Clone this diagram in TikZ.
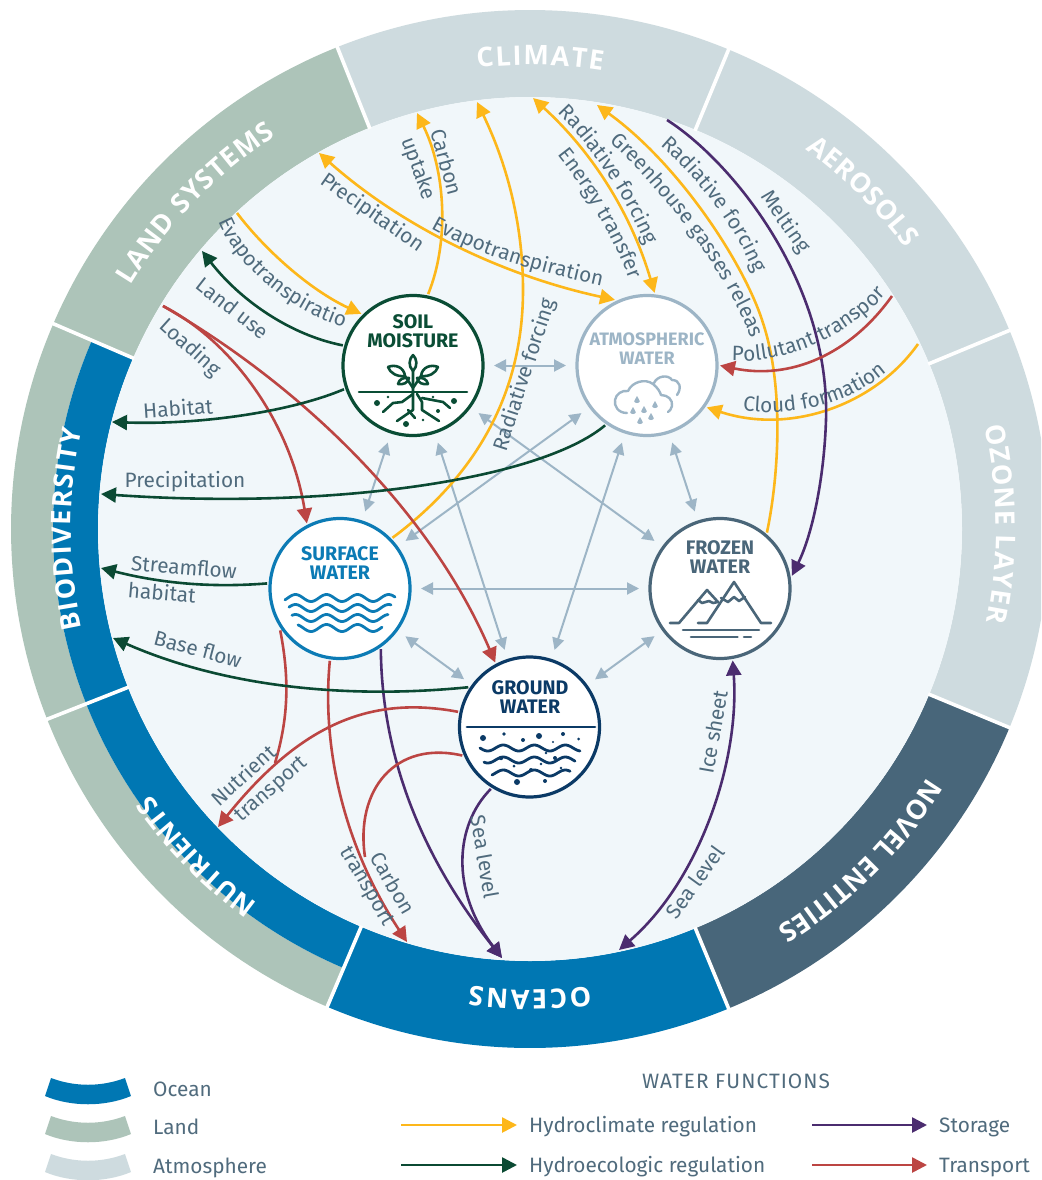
\documentclass[tikz,border=0pt]{standalone}
\usepackage{fontspec}
\setmainfont{Fira Sans}
\newfontfamily\ringfam{Open Sans}
\usetikzlibrary{arrows.meta,decorations.text}
\definecolor{oceanc}{HTML}{0077B3}
\definecolor{landc}{HTML}{ADC4B9}
\definecolor{atmc}{HTML}{CEDBDF}
\definecolor{novelc}{HTML}{48667A}
\definecolor{discc}{HTML}{F1F7FA}
\definecolor{yellowc}{HTML}{FDB71A}
\definecolor{redc}{HTML}{BC4543}
\definecolor{purplec}{HTML}{4B2C6F}
\definecolor{greenc}{HTML}{0B4A33}
\definecolor{grayc}{HTML}{9DB5C6}
\definecolor{labelc}{HTML}{506B7D}
\definecolor{soilc}{HTML}{0A4D35}
\definecolor{surfc}{HTML}{0C7BB5}
\definecolor{frozc}{HTML}{4A6679}
\definecolor{groundc}{HTML}{0B3A66}
\newcommand\lblfont{\fontsize{20.8}{23}\selectfont}
\newcommand\ringfont{\ringfam\fontsize{27}{30}\selectfont\bfseries}
\newcommand\ttlfont{\fontsize{19.6}{19}\selectfont\bfseries}
\newcommand\ttlfonta{\fontsize{18}{19}\selectfont\bfseries}
\tikzset{
  conn/.style={line width=2.6pt},
  yel/.style={conn,draw=yellowc,-{Triangle[length=15pt,width=15pt,fill=yellowc]}},
  yelb/.style={conn,draw=yellowc,{Triangle[length=15pt,width=15pt,fill=yellowc]}-{Triangle[length=15pt,width=15pt,fill=yellowc]}},
  redl/.style={conn,draw=redc,-{Triangle[length=15pt,width=15pt,fill=redc]}},
  redn/.style={conn,draw=redc},
  pur/.style={conn,draw=purplec,-{Triangle[length=15pt,width=15pt,fill=purplec]}},
  purb/.style={conn,draw=purplec,{Triangle[length=15pt,width=15pt,fill=purplec]}-{Triangle[length=15pt,width=15pt,fill=purplec]}},
  grn/.style={conn,draw=greenc,-{Triangle[length=15pt,width=15pt,fill=greenc]}},
  gry/.style={line width=2pt,draw=grayc,{Triangle[length=12pt,width=12pt,fill=grayc]}-{Triangle[length=12pt,width=12pt,fill=grayc]},shorten >=8pt,shorten <=8pt},
  circ/.style={circle,minimum size=140pt,inner sep=0pt,outer sep=3pt},
  ttl/.style={font=\ttlfont,text=#1,align=center,inner sep=0pt},
  lbl/.style={font=\lblfont,text=labelc,inner sep=0pt},
  clbl/.style={decorate,decoration={text along path,text={|\lblfont\color{labelc}|#1},text align=center}},
  ringt/.style={decorate,decoration={text along path,text={|\ringfont\color{white}|#1},text align=fit to path}},
  sep/.style={draw=white,line width=3.6pt},
  ico/.style={line width=#1,line cap=round,line join=round},
}
\begin{document}
\begin{tikzpicture}[x=1pt,y=-1pt]
\useasboundingbox (0,0) rectangle (1041,1180);
\clip (0,0) rectangle (1041,1180);
\fill[white] (0,0) rectangle (1041,1180);
% ---------- ring
\begin{scope}[shift={(530,529)},y=1pt]
\newcommand\seg[5]{\fill[#1] (#2:#4) arc (#2:#3:#4) -- (#3:#5) arc (#3:#2:#5) -- cycle;}
\seg{atmc}{67.5}{111.8}{519}{432}
\seg{atmc}{22.5}{67.5}{519}{432}
\seg{atmc}{-22.5}{22.5}{519}{432}
\seg{novelc}{-67.5}{-22.5}{519}{432}
\seg{oceanc}{-113}{-67.5}{519}{432}
\seg{landc}{-158.5}{-113}{519}{477}
\seg{oceanc}{-158.5}{-113}{477}{432}
\seg{landc}{156.7}{201.5}{519}{477}
\seg{oceanc}{156.7}{201.5}{477}{432}
\seg{landc}{111.8}{156.7}{519}{432}
\fill[discc] (0,0) circle (432);
\foreach \a in {22.5,67.5,111.8,156.7,201.5,247,292.5,337.5} \draw[sep] (\a:431) -- (\a:522);
\path[ringt={CLIMATE}] (96.5:464) arc (96.5:81:464);
\path[ringt={AEROSOLS}] (54:469) arc (54:36.8:469);
\path[ringt={OZONE LAYER}] (12.7:466) arc (12.7:-11.5:466);
\path[ringt={NOVEL ENTITIES}] (-32:469) arc (-32:-58:469);
\path[ringt={OCEANS}] (-82.5:461) arc (-82.5:-97.5:461);
\path[ringt={NUTRIENTS}] (-126:463) arc (-126:-145:463);
\path[ringt={BIODIVERSITY}] (-167.5:459) arc (-167.5:-192.5:459);
\path[ringt={LAND SYSTEMS}] (148.6:468) arc (148.6:122.9:468);
\end{scope}
% ---------- nodes (circles)
\path (413,365.5) node[circ] (soil) {};
\path (647,365.5) node[circ] (atmos) {};
\path (340,588.5) node[circ] (surface) {};
\path (720,588.5) node[circ] (frozen) {};
\path (529.5,727) node[circ] (ground) {};
% ---------- free ends
\coordinate (yLandS) at (237,213);
\coordinate (tCarbon) at (417,113);
\coordinate (tRad) at (477,102);
\coordinate (mRad) at (523,290);
\coordinate (tPrec) at (319,153);
\coordinate (tEner) at (533,98);
\coordinate (tGreen) at (597,105);
\coordinate (mGreen) at (763,323);
\coordinate (sCloud) at (918,344);
\coordinate (sMelt) at (667,120);
\coordinate (mMelt) at (826,420);
\coordinate (tSea) at (619,950);
\coordinate (tOcean) at (502,958);
\coordinate (sLoad) at (163,306);
\coordinate (sPoll) at (892,296);
\coordinate (jNutr) at (275,763);
\coordinate (tNutr) at (218,827);
\coordinate (tCarbT) at (407,942);
\coordinate (jCarbT) at (365,857);
\coordinate (tLand) at (202,251);
\coordinate (tHab) at (112,422);
\coordinate (tPre) at (101,494);
\coordinate (tStr) at (101,568);
\coordinate (tBase) at (113,638);
% ---------- grey double arrows
\draw[gry] (soil) -- (atmos);
\draw[gry] (soil) -- (frozen);
\draw[gry] (atmos) -- (surface);
\draw[gry] (soil) -- (ground);
\draw[gry] (soil) -- (surface);
\draw[gry] (atmos) -- (frozen);
\draw[gry] (atmos) -- (ground);
\draw[gry] (surface) -- (frozen);
\draw[gry] (surface) -- (ground);
\draw[gry] (frozen) -- (ground);
% ---------- hydroclimate
\draw[yel] (yLandS) .. controls (265,250) and (310,290) .. (soil.135);
\draw[yel] (soil.78) .. controls (450,240) and (445,170) .. (tCarbon);
\draw[yel] (surface.44) .. controls (470,480) and (523,400) .. (mRad) .. controls (523,220) and (505,160) .. (tRad);
\draw[yelb] (tPrec) .. controls (400,225) and (500,275) .. (atmos.116);
\draw[yelb] (tEner) .. controls (590,150) and (630,210) .. (atmos.84);
\draw[yel] (frozen.50) .. controls (778,480) and (785,390) .. (mGreen) .. controls (745,265) and (680,165) .. (tGreen);
\draw[yel] (sCloud) .. controls (875,405) and (790,435) .. (atmos.-35);
% ---------- storage
\draw[pur] (sMelt) .. controls (730,160) and (830,280) .. (mMelt) .. controls (824,480) and (812,535) .. (frozen.10);
\draw[purb] (frozen.-80) .. controls (740,760) and (700,880) .. (tSea);
\draw[pur] (surface.-56) .. controls (382,780) and (440,880) .. (tOcean);
\draw[pur] (ground.-122) .. controls (455,825) and (450,890) .. (tOcean);
% ---------- transport
\draw[redl] (sLoad) .. controls (230,340) and (290,420) .. (surface.117);
\draw[redl] (sLoad) .. controls (300,385) and (430,510) .. (ground.118);
\draw[redl] (sPoll) .. controls (850,355) and (790,380) .. (atmos.0);
\draw[redn] (surface.215) .. controls (290,680) and (288,720) .. (jNutr);
\draw[redl] (ground.168) .. controls (370,695) and (300,725) .. (tNutr);
\draw[redl] (surface.262) .. controls (322,740) and (340,840) .. (tCarbT);
\draw[redn] (ground.203) .. controls (395,740) and (355,790) .. (jCarbT);
% ---------- hydroecologic
\draw[grn] (soil.164) .. controls (290,335) and (240,300) .. (tLand);
\draw[grn] (soil.199) .. controls (290,412) and (200,425) .. (tHab);
\draw[grn] (atmos.235) .. controls (540,480) and (330,510) .. (tPre);
\draw[grn] (surface.176) .. controls (210,588) and (160,583) .. (tStr);
\draw[grn] (ground.147) .. controls (340,700) and (220,685) .. (tBase);
% ---------- circles on top
\draw[soilc,fill=white,line width=3.2pt] (soil.center) circle (70);
\draw[grayc,fill=white,line width=3.2pt] (atmos.center) circle (70);
\draw[surfc,fill=white,line width=3.2pt] (surface.center) circle (70);
\draw[frozc,fill=white,line width=3.2pt] (frozen.center) circle (70);
\draw[groundc,fill=white,line width=3.2pt] (ground.center) circle (70);
\node[ttl=soilc] (soilT) at (413,331) {SOIL\\MOISTURE};
\node[ttl=grayc,font=\ttlfonta] (atmosT) at (647,348.5) {ATMOSPHERIC\\WATER};
\node[ttl=surfc] (surfT) at (340,563) {SURFACE\\WATER};
\node[ttl=frozc] (frozT) at (720,557.5) {FROZEN\\WATER};
\node[ttl=groundc] (groundT) at (530,697.5) {GROUND\\WATER};
% soil icon
\begin{scope}[draw=soilc,fill=soilc,ico=2.6pt]
\draw (359,392) -- (467,392);
\draw (413,370) -- (413,410) -- (397,421);
\draw (408,410) -- (415,418);
\draw (413,388) -- (405,376); \draw (413,388) -- (421,376);
\draw (413,394) -- (402,402) -- (393,403) -- (383,412);
\draw (417,394) -- (422,402) -- (422,410) -- (439,421);
\draw (422,398) -- (443,402) -- (450,408);
\draw (413,355) .. controls (417,359) and (418,366) .. (413,371) .. controls (408,366) and (409,359) .. (413,355);
\draw (388,367) .. controls (395,364) and (404,367) .. (405,376) .. controls (397,377) and (390,373) .. (388,367);
\draw (438,367) .. controls (431,364) and (422,367) .. (421,376) .. controls (429,377) and (436,373) .. (438,367);
\draw (398,384) .. controls (399,379) and (404,377) .. (409,378) .. controls (408,383) and (403,385) .. (398,384);
\draw (428,384) .. controls (427,379) and (422,377) .. (417,378) .. controls (418,383) and (423,385) .. (428,384);
\foreach \dx/\dy/\dr in {377/403/3,388/397/1.4,454/401/3,433/397/1.4,438/411/2,423/420/1.4,406/424/3}
  \fill[soilc] (\dx,\dy) circle (\dr);
\end{scope}
% atmos icon
\begin{scope}[ico=2.4pt]
\draw[grayc] (627,413) .. controls (618,413) and (614,406) .. (615,400) .. controls (616,394) and (622,390) .. (628,391) .. controls (632,382) and (645,378) .. (653,384) .. controls (658,388) and (660,392) .. (661,395) .. controls (668,395) and (673,400) .. (672,406) .. controls (671,409) and (670,411) .. (668,412);
\draw[grayc] (654,383) .. controls (657,376) and (668,374) .. (672,380) .. controls (680,380) and (682,388) .. (677,395);
\foreach \dx/\dy in {637/400,655/405,633/411,644/410,640/421,651/417}
  \fill[grayc] (\dx,\dy-4) .. controls (\dx+.6,\dy-1.6) and (\dx+2.8,\dy-.6) .. (\dx+2.8,\dy+1.2) .. controls (\dx+2.8,\dy+3.6) and (\dx-2.8,\dy+3.6) .. (\dx-2.8,\dy+1.2) .. controls (\dx-2.8,\dy-.6) and (\dx-.6,\dy-1.6) .. (\dx,\dy-4) -- cycle;
\end{scope}
% surface icon
\foreach \ya/\xa/\xb in {598/285/395,608/289/391,618/292/388,628/298/382}
  \draw[surfc,ico=2.8pt] plot[variable=\t,domain=\xa:\xb,samples=70,smooth] (\t,{\ya+3.5*sin((\t-280)*11.6+90)});
% ground icon
\draw[groundc,ico=2.8pt] (467,727) -- (595,727);
\foreach \ya/\xa/\xb in {748/480/580,760/484/575,773/492/570}
  \draw[groundc,ico=2.8pt] plot[variable=\t,domain=\xa:\xb,samples=60,smooth] (\t,{\ya+3*sin((\t-480)*11.6)});
\foreach \dx/\dy/\dr in {483/738/3,504/734/1.8,523/740/2,539/736/3,563/734/2,553/742/1.2,578.6/739/1.5,505/745/1.2,546/753/1.3,501/758/2.2,555/758/2,514/766/1.5,541/764/1.4,505/770/1.3,531/770/2,561/768/1.3,517/782/3,545/781/2}
  \fill[groundc] (\dx,\dy) circle (\dr);
% frozen icon
\begin{scope}[draw=frozc,ico=2.6pt]
\draw (698,623) -- (707,623) -- (734,582) -- (761,623) -- (771,623);
\draw (670,623) -- (679,623) -- (707,590) -- (718,602);
\draw (721,598) -- (728,602) -- (734,597) -- (739,601) -- (745,597);
\draw (698,600) -- (702,603) -- (709,601) -- (713,603) -- (718,602);
\draw (683,630) -- (759,630);
\draw (691,637) -- (737.5,637);
\draw (744,637) -- (751,637);
\end{scope}
% ---------- labels
\node[lbl,rotate=-38] (lLand) at (233,308) {Land use};
\node[lbl,rotate=-42] (lLoad) at (190,348) {Loading};
\node[lbl,rotate=4] (lHab) at (178,408) {Habitat};
\node[lbl] (lPrec) at (185,482) {Precipitation};
\node[lbl,rotate=-5] (lStr) at (184,567) {Streamflow};
\node[lbl,rotate=-5] (lStr2) at (162,592) {habitat};
\node[lbl,rotate=-15] (lBase) at (198,649) {Base flow};
\node[lbl,rotate=42] (lNut1) at (243,775) {Nutrient};
\node[lbl,rotate=41] (lNut2) at (272,790) {transport};
\node[lbl,rotate=-60] (lCar1) at (393,883) {Carbon};
\node[lbl,rotate=-60] (lCar2) at (366,887) {transport};
\node[lbl,rotate=-80] (lSea1) at (485,857) {Sea level};
\node[lbl,rotate=54] (lSea2) at (695,882) {Sea level};
\node[lbl,rotate=80] (lIce) at (713,732) {Ice sheet};
\node[lbl,rotate=-75] (lCup1) at (447,162) {Carbon};
\node[lbl,rotate=-70] (lCup2) at (418,169) {uptake};
\node[lbl,rotate=-35] (lPre2) at (372,213) {Precipitation};
\node[lbl,rotate=-55] (lMelt) at (785,222) {Melting};
\node[lbl,rotate=72] (lRad) at (525,375) {Radiative forcing};
\path[clbl={Evapotranspiration}] (222,229) .. controls (240,265) and (285,310) .. (347,328);
\path[clbl={Evapotranspiration}] (434,230) .. controls (485,258) and (540,272) .. (598,285);
\path[clbl={Radiative forcing}] (558,113) .. controls (590,145) and (625,195) .. (646,245);
\path[clbl={Energy transfer}] (560,158) .. controls (585,190) and (610,230) .. (628,276);
\path[clbl={Greenhouse gasses release}] (617,148) .. controls (660,190) and (720,260) .. (752,340);
\path[clbl={Radiative forcing}] (661,146) .. controls (695,175) and (735,225) .. (754,272);
\path[clbl={Pollutant transport}] (738,361) .. controls (790,362) and (850,335) .. (887,293);
\path[clbl={Cloud formation}] (740,410) .. controls (790,418) and (850,405) .. (889,370);
% ---------- legend
\fill[oceanc] (45,1096) -- (51,1078) .. controls (75,1087) and (101,1087) .. (125,1078) -- (131,1096) .. controls (105,1107) and (71,1107) .. (45,1096) -- cycle;
\fill[landc] (45,1134) -- (51,1116) .. controls (75,1125) and (101,1125) .. (125,1116) -- (131,1134) .. controls (105,1145) and (71,1145) .. (45,1134) -- cycle;
\fill[atmc] (45,1172) -- (51,1154) .. controls (75,1163) and (101,1163) .. (125,1154) -- (131,1172) .. controls (105,1183) and (71,1183) .. (45,1172) -- cycle;
\node[lbl,anchor=base west] (kOcean) at (153,1096) {Ocean};
\node[lbl,anchor=base west] (kLand) at (153,1134) {Land};
\node[lbl,anchor=base west] (kAtm) at (153,1173) {Atmosphere};
\node[lbl,anchor=base] (kTitle) at (736,1088) {\addfontfeatures{LetterSpace=5}WATER FUNCTIONS};
\node[lbl,anchor=base west] (kHc) at (529,1132) {Hydroclimate regulation};
\node[lbl,anchor=base west] (kHe) at (529,1172) {Hydroecologic regulation};
\node[lbl,anchor=base west] (kSt) at (939,1132) {Storage};
\node[lbl,anchor=base west] (kTr) at (939,1172) {Transport};
\coordinate (sHc) at (401,1125); \coordinate (eHc) at (517,1125);
\coordinate (sHe) at (401,1165); \coordinate (eHe) at (517,1165);
\coordinate (sSt) at (812,1125); \coordinate (eSt) at (927,1125);
\coordinate (sTr) at (812,1165); \coordinate (eTr) at (927,1165);
\draw[yel] (sHc) -- (eHc);
\draw[grn] (sHe) -- (eHe);
\draw[pur] (sSt) -- (eSt);
\draw[redl] (sTr) -- (eTr);
\end{tikzpicture}
\end{document}
